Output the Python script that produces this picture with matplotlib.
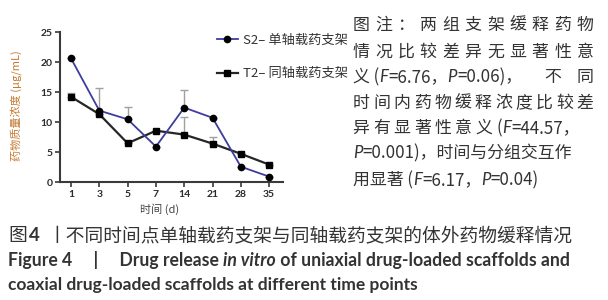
import matplotlib
matplotlib.use("Agg")
import matplotlib.pyplot as plt
from matplotlib.lines import Line2D

plt.rcParams["font.family"] = ["Noto Sans CJK SC", "DejaVu Sans"]

# data
times = ["1", "3", "5", "7", "14", "21", "28", "35"]
s2 = [20.6, 11.9, 10.45, 5.9, 12.4, 10.7, 2.55, 0.9]
s2_err = [0.0, 3.8, 2.1, 0.0, 2.9, 0.0, 0.0, 0.0]
t2 = [14.2, 11.3, 6.45, 8.55, 7.9, 6.4, 4.7, 2.9]
t2_err = [0.6, 0.0, 0.0, 0.0, 2.9, 1.15, 0.0, 0.0]
y_ticks = [0, 5, 10, 15, 20, 25]
s2_label = "S2– 单轴载药支架"
t2_label = "T2– 同轴载药支架"

W, H = 608, 300
TXT = "#333333"
CJK = ["Noto Sans CJK SC", "DejaVu Sans"]
LAT = ["Lato", "DejaVu Sans"]
fig = plt.figure(figsize=(W / 100, H / 100), dpi=100)
renderer = fig.canvas.get_renderer()


def fx(px):
    return px / W


def fy(py):
    return 1 - py / H


ax = fig.add_axes([fx(60), fy(182), fx(283 - 60), (182 - 32) / H])
xs = list(range(len(times)))

for vals, errs in ((s2, s2_err), (t2, t2_err)):
    ax.errorbar(xs, vals, yerr=[[0] * len(vals), errs], fmt="none", ecolor="#a0a0a0",
                elinewidth=1.0, capsize=3, capthick=1.0, zorder=1)
ax.plot(xs, t2, color="#262626", lw=1.6, marker="s", ms=5, mfc="black", mec="black", zorder=2)
ax.plot(xs, s2, color="#3d3d9e", lw=1.3, marker="o", ms=4.5, mfc="black", mec="black", zorder=3)

ax.set_xlim(-0.39, 7.49)
ax.set_ylim(0, 25)
ax.set_xticks(xs)
ax.set_xticklabels(times)
ax.set_yticks(y_ticks)
for s in ("top", "right"):
    ax.spines[s].set_visible(False)
for s in ("left", "bottom"):
    ax.spines[s].set_linewidth(1.5)
    ax.spines[s].set_color("#3a3a3a")
ax.tick_params(direction="out", length=3.5, width=1.2, color="#3a3a3a", pad=2,
               labelsize=7.5, labelcolor="#2a2a2a")
for lab in ax.get_xticklabels() + ax.get_yticklabels():
    lab.set_fontweight("bold")
    lab.set_family(LAT)

fig.text(fx(16), fy(106), "药物质量浓度 (μg/mL)", rotation=90, ha="center", va="center",
         fontsize=8, color="#c47a34")
fig.text(fx(160), fy(209), "时间 (d)", ha="center", va="center", fontsize=8, color="#444444")

handles = [
    Line2D([], [], color="#3d3d9e", lw=1.3, marker="o", ms=4.5, mfc="black", mec="black"),
    Line2D([], [], color="#262626", lw=1.6, marker="s", ms=5, mfc="black", mec="black"),
]
fig.legend(handles, [s2_label, t2_label], loc="upper left",
           bbox_to_anchor=(fx(205), fy(22)), frameon=False, fontsize=9.5,
           handlelength=1.6, handletextpad=0.4, labelspacing=1.55, labelcolor="#333333")

# right-hand note
NFS = 12.2


def spread(text, y, x0, x1):
    step = (x1 - x0) / (len(text) - 1)
    for i, ch in enumerate(text):
        fig.text(fx(x0 + i * step), fy(y), ch, ha="center", va="center",
                 fontsize=NFS, color=TXT)


def run(x, y, parts, size=NFS, weight="normal", family=None):
    # draw segments side by side on one baseline, measuring each one
    cur = x
    for txt, ital in parts:
        kw = dict(fontsize=size, color=TXT, fontweight=weight, va="baseline", ha="left")
        if ital:
            kw.update(family=LAT, style="italic")
        else:
            kw.update(family=family or CJK)
        t = fig.text(fx(cur), fy(y), txt, **kw)
        cur += t.get_window_extent(renderer).width
    return cur


BL = 5  # baseline offset from line centre
spread("图注：两组支架缓释药物", 25, 361, 585)
spread("情况比较差异无显著性意", 52, 361, 585)
run(353, 77 + BL, [("义 (", False), ("F", True), ("=6.76，", False), ("P", True), ("=0.06)，", False)])
fig.text(fx(553), fy(77), "不", ha="center", va="center", fontsize=NFS, color=TXT)
fig.text(fx(585), fy(77), "同", ha="center", va="center", fontsize=NFS, color=TXT)
spread("时间内药物缓释浓度比较差", 103, 361, 585)
spread("异有显著性意义", 128, 361, 484)
run(497, 128 + BL, [("(", False), ("F", True), ("=44.57，", False)])
run(353, 153 + BL, [("P", True), ("=0.001)，时间与分组交互作", False)])
run(353, 180 + BL, [("用显著 (", False), ("F", True), ("=6.17，", False), ("P", True), ("=0.04)", False)])

# caption
x = run(8, 235 + 6, [("图", False)], size=13.5)
x = run(x + 2, 235 + 6, [("4", False)], size=13.5, weight="bold", family=LAT)
run(x + 8, 235 + 6, [("丨不同时间点单轴载药支架与同轴载药支架的体外药物缓释情况", False)], size=13.5)
x = run(8, 261 + 5, [("Figure 4     |     Drug release ", False)], size=12.7, weight="bold", family=LAT)
x = run(x, 261 + 5, [("in vitro", True)], size=12.7, weight="bold")
run(x, 261 + 5, [(" of uniaxial drug-loaded scaffolds and", False)], size=12.7, weight="bold", family=LAT)
run(8, 285 + 5, [("coaxial drug-loaded scaffolds at different time points", False)], size=12.5,
    weight="bold", family=LAT)

fig.savefig("out.png", dpi=100, facecolor="white")
